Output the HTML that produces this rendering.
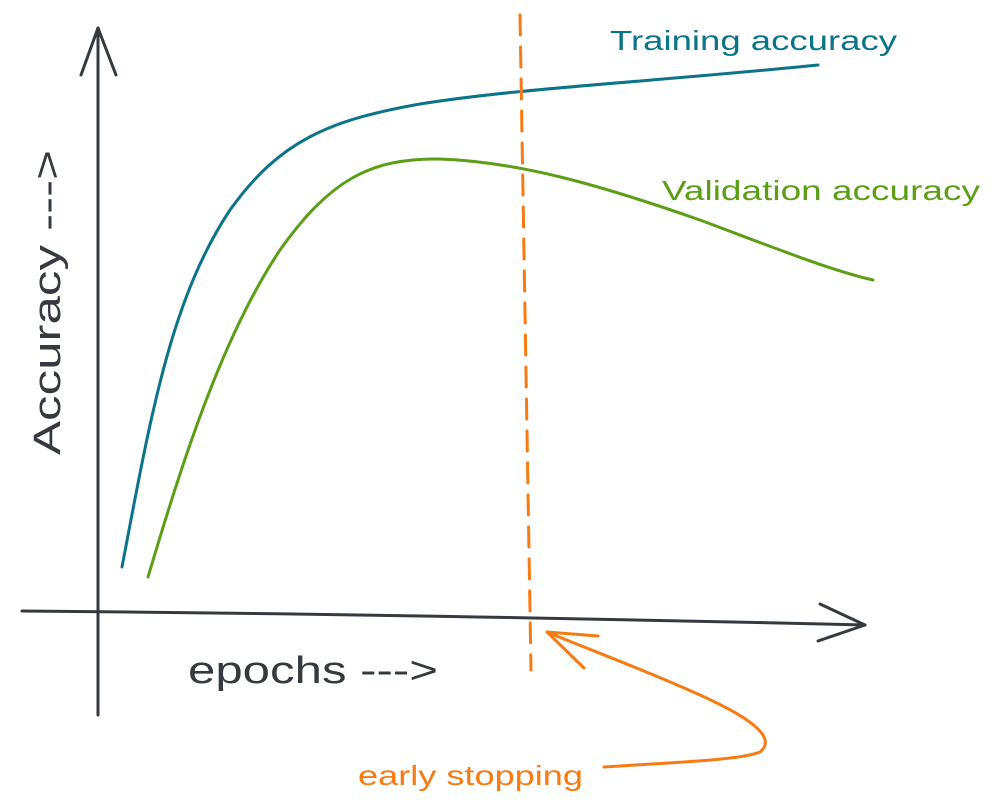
<!DOCTYPE html>
<html><head><meta charset="utf-8"><style>
html,body{margin:0;padding:0;background:#fff;width:1000px;height:810px;overflow:hidden}
svg text{font-family:"Liberation Sans",sans-serif}
</style></head><body>
<svg width="1000" height="810" viewBox="0 0 1000 810" xmlns="http://www.w3.org/2000/svg">
<g fill="none" stroke-linecap="round" stroke-linejoin="round">
<path d="M98 715 L98 28" stroke="#343a40" stroke-width="3"/>
<path d="M81 75 L98 28 L116 75" stroke="#343a40" stroke-width="3"/>
<path d="M22 611 Q400 614 865 625" stroke="#343a40" stroke-width="3"/>
<path d="M820 604 L865 625 L818 641" stroke="#343a40" stroke-width="3"/>
<path d="M122 567 C150 420 170 300 230 210 C280 140 330 120 420 104 C520 88 650 82 818 65" stroke="#0c7489" stroke-width="3"/>
<path d="M148 577 C180 470 220 340 280 250 C330 180 370 158 440 159 C520 162 600 185 700 220 C780 250 830 270 873 280" stroke="#5c9e16" stroke-width="3"/>
<path d="M520 15 L531 670" stroke="#f77b12" stroke-width="3" stroke-dasharray="20 12"/>
<path d="M604 767 C680 762 740 760 760 752 C775 740 760 722 700 695 C640 668 590 650 547 632" stroke="#f77b12" stroke-width="3"/>
<path d="M598 636 L547 632 L584 668" stroke="#f77b12" stroke-width="3"/>
</g>
<text x="610" y="50" font-size="28" fill="#0c7489" textLength="287" lengthAdjust="spacingAndGlyphs">Training accuracy</text>
<text x="662" y="200" font-size="28" fill="#5c9e16" textLength="318" lengthAdjust="spacingAndGlyphs">Validation accuracy</text>
<text x="188" y="683" font-size="38" fill="#343a40" textLength="250" lengthAdjust="spacingAndGlyphs">epochs ---&gt;</text>
<text x="358" y="785" font-size="28" fill="#f77b12" textLength="225" lengthAdjust="spacingAndGlyphs">early stopping</text>
<text transform="translate(60,455) rotate(-90)" x="0" y="0" font-size="38" fill="#343a40" textLength="305" lengthAdjust="spacingAndGlyphs">Accuracy ---&gt;</text>
</svg>
</body></html>
